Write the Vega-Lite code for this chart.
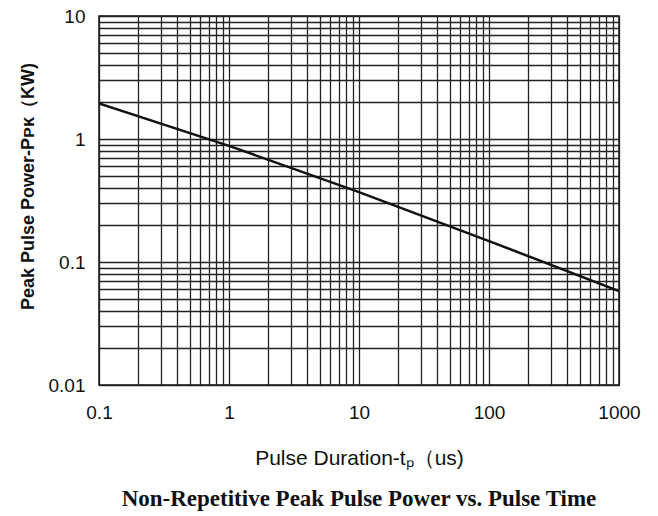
{
  "$schema": "https://vega.github.io/schema/vega-lite/v6.json",
  "autosize": {"type": "none"},
  "width": 520,
  "height": 369,
  "padding": {"left": 99, "top": 16, "right": 39, "bottom": 131},
  "background": "white",
  "config": {
    "view": {"stroke": "#111", "strokeWidth": 1.5},
    "font": "Liberation Sans"
  },
  "title": {
    "text": "Non-Repetitive Peak Pulse Power vs. Pulse Time",
    "orient": "bottom",
    "font": "Liberation Serif",
    "fontSize": 23,
    "fontWeight": "bold",
    "color": "#111",
    "offset": 20
  },
  "data": {
    "values": [
      {"tp": 0.1, "ppk": 1.95},
      {"tp": 1, "ppk": 0.88},
      {"tp": 10, "ppk": 0.37},
      {"tp": 100, "ppk": 0.148},
      {"tp": 1000, "ppk": 0.058}
    ]
  },
  "mark": {"type": "line", "color": "#111", "strokeWidth": 2.5, "clip": true},
  "encoding": {
    "x": {
      "field": "tp",
      "type": "quantitative",
      "scale": {"type": "log", "domain": [0.1, 1000], "nice": false},
      "axis": {
        "title": "Pulse Duration-tₚ（us)",
        "titleFont": "Liberation Sans",
        "titleFontSize": 21,
        "titleFontWeight": "normal",
        "titleColor": "#111",
        "titlePadding": 25,
        "values": [0.1,0.2,0.3,0.4,0.5,0.6,0.7,0.8,0.9,1,2,3,4,5,6,7,8,9,10,20,30,40,50,60,70,80,90,100,200,300,400,500,600,700,800,900,1000],
        "labelExpr": "indexof([0.1,1,10,100,1000], datum.value) >= 0 ? datum.label : ''",
        "format": "~g",
        "labelFontSize": 19,
        "labelColor": "#111",
        "labelPadding": 18,
        "labelFlush": false,
        "labelOverlap": false,
        "ticks": false,
        "domain": false,
        "grid": true,
        "gridColor": "#222",
        "gridWidth": 1.3,
        "gridOpacity": 1
      }
    },
    "y": {
      "field": "ppk",
      "type": "quantitative",
      "scale": {"type": "log", "domain": [0.01, 10], "nice": false},
      "axis": {
        "title": "Peak Pulse Power-Pᴘᴋ（KW)",
        "titleFont": "Liberation Sans",
        "titleFontSize": 18,
        "titleFontWeight": "bold",
        "titleColor": "#111",
        "titlePadding": 11,
        "titleY": 170,
        "values": [0.01,0.02,0.03,0.04,0.05,0.06,0.07,0.08,0.09,0.1,0.2,0.3,0.4,0.5,0.6,0.7,0.8,0.9,1,2,3,4,5,6,7,8,9,10],
        "labelExpr": "indexof([0.01,0.1,1,10], datum.value) >= 0 ? datum.label : ''",
        "format": "~g",
        "labelFontSize": 19,
        "labelColor": "#111",
        "labelPadding": 14,
        "labelFlush": false,
        "labelOverlap": false,
        "ticks": false,
        "domain": false,
        "grid": true,
        "gridColor": "#222",
        "gridWidth": 1.3,
        "gridOpacity": 1
      }
    }
  }
}
